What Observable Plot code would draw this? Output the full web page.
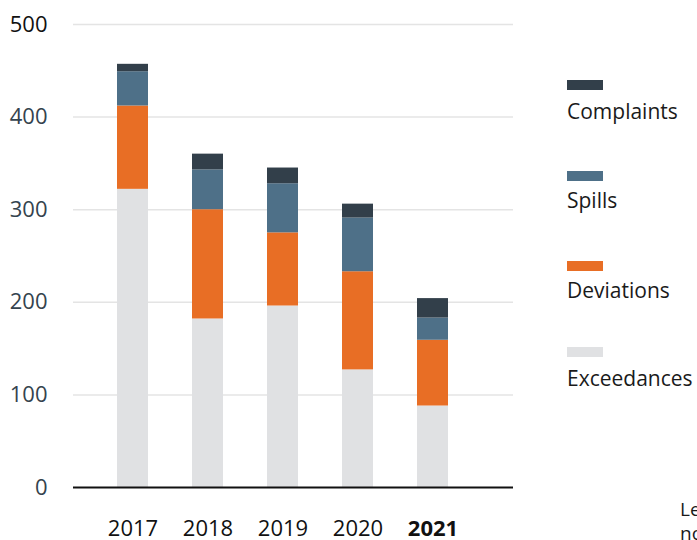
<!DOCTYPE html>
<html>
<head>
<meta charset="utf-8">
<script src="https://cdn.jsdelivr.net/npm/d3@7"></script>
<script src="https://cdn.jsdelivr.net/npm/@observablehq/plot@0.6"></script>
<style>
  html, body { margin: 0; padding: 0; background: #fff; overflow: hidden; width: 697px; height: 540px; }
  body { font-family: "Open Sans", sans-serif; position: relative; }
  #chart { position: absolute; left: 0; top: 0; }
  .leg { position: absolute; left: 567px; font-size: 21px; color: #1a1a1a; line-height: 1; }
  .sw { position: absolute; left: 567px; width: 36px; height: 10px; }
  .note { position: absolute; left: 680px; font-size: 19px; line-height: 20px; color: #1a1a1a; white-space: nowrap; }
</style>
</head>
<body>
<div id="chart"></div>
<div id="legend"></div>
<div class="note" style="top:499px">Le</div>
<div class="note" style="top:523px">no</div>
<script>
const years = ["2017", "2018", "2019", "2020", "2021"];
const exceedances = [322, 182, 196, 127, 88];
const deviations = [90, 118, 79, 106, 71];
const spills = [37, 43, 53, 58, 24];
const complaints = [8, 17, 17, 15, 21];
const seriesNames = ["Exceedances", "Deviations", "Spills", "Complaints"];
const seriesColors = ["#e0e1e3", "#e86e25", "#4e7088", "#323f4a"];
const yTicks = [0, 100, 200, 300, 400, 500];

const valuesBySeries = {Exceedances: exceedances, Deviations: deviations, Spills: spills, Complaints: complaints};
const table = [];
seriesNames.forEach(s => years.forEach((y, i) => table.push({year: y, series: s, value: valuesBySeries[s][i]})));

const W = 697, H = 540;
const mL = 73, mR = 184, mT = 24, mB = 53;

const chart = Plot.plot({
  width: W,
  height: H,
  marginLeft: mL,
  marginRight: mR,
  marginTop: mT,
  marginBottom: mB,
  style: {fontFamily: "'Open Sans', sans-serif", background: "#fff"},
  x: {domain: years, range: [93.25, 470.75], paddingInner: 0.59, paddingOuter: 0.295, axis: null},
  y: {domain: [0, 500], axis: null},
  color: {domain: seriesNames, range: seriesColors},
  marks: [
    Plot.ruleY(yTicks.filter(d => d > 0), {stroke: "#e4e4e4", strokeWidth: 1.5}),
    Plot.barY(table, Plot.stackY({order: seriesNames}, {x: "year", y: "value", fill: "series"})),
    Plot.ruleY([0], {stroke: "#111", strokeWidth: 2}),
    Plot.text(yTicks, {y: d => d, frameAnchor: "left", textAnchor: "end", dx: -26, text: d => String(d), fontSize: 22, fill: d => d === 500 ? "#111" : "#34434e"}),
    Plot.text(years.filter(y => y !== "2021"), {x: d => d, frameAnchor: "bottom", dy: 48, text: d => d, fontSize: 22, fill: "#111"}),
    Plot.text(years.filter(y => y === "2021"), {x: d => d, frameAnchor: "bottom", dy: 48, text: d => d, fontSize: 22, fontWeight: "bold", fill: "#111"})
  ]
});
document.getElementById("chart").append(chart);

const legendOrder = ["Complaints", "Spills", "Deviations", "Exceedances"];
const swTops = [80, 171, 261, 347];
const labTops = [101, 190, 280, 368];
const leg = document.getElementById("legend");
legendOrder.forEach((s, i) => {
  const sw = document.createElement("div");
  sw.className = "sw";
  sw.style.top = swTops[i] + "px";
  sw.style.background = seriesColors[seriesNames.indexOf(s)];
  leg.append(sw);
  const lab = document.createElement("div");
  lab.className = "leg";
  lab.style.top = labTops[i] + "px";
  lab.textContent = s;
  leg.append(lab);
});
</script>
</body>
</html>
